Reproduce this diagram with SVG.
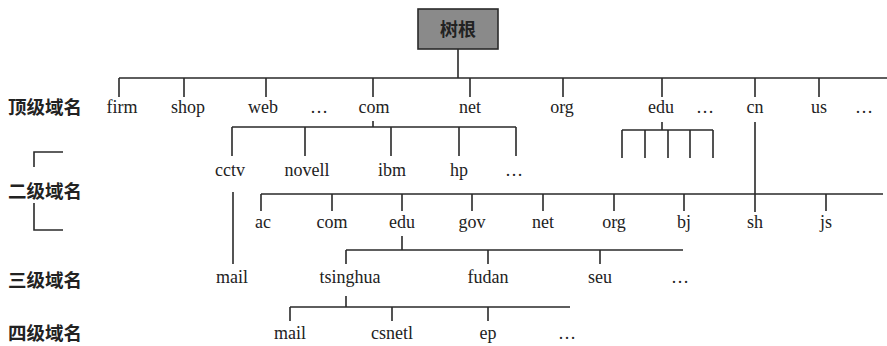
<svg xmlns="http://www.w3.org/2000/svg" width="887" height="346" viewBox="0 0 887 346">
<style>
.ln{stroke:#2a2a2a;stroke-width:1.6;fill:none}
.t{font-family:"Liberation Serif","Times New Roman",serif;font-size:18px;fill:#222;text-anchor:middle}
.cn{font-family:"Noto Sans CJK SC","Noto Sans",sans-serif;font-size:18.5px;font-weight:bold;fill:#222}
</style>
<rect width="887" height="346" fill="#ffffff"/>
<g id="root">
<rect x="418" y="9" width="80" height="40" fill="#8a8a8a" stroke="#2a2a2a" stroke-width="1.6"/>
<text x="458" y="36" class="cn" text-anchor="middle" style="font-size:18px">树根</text>
</g>
<g id="levels">
<text x="8" y="114" class="cn">顶级域名</text>
<text x="8" y="198" class="cn">二级域名</text>
<text x="8" y="287" class="cn">三级域名</text>
<text x="8" y="340" class="cn">四级域名</text>
<path class="ln" d="M63,152 H34 V167 M34,203 V230 H63"/>
</g>
<g id="connectors">
<path class="ln" d="M458,49 V78 M119,78 H887 M119,78 V97 M184,78 V97 M266,78 V97 M373,78 V97 M470,78 V97 M563,78 V97 M662,78 V97 M755,78 V97 M819,78 V97"/>
<path class="ln" d="M373,121 V127 M232,127 H516 M232,127 V156 M305,127 V156 M391,127 V156 M459,127 V156 M516,127 V156"/>
<path class="ln" d="M662,122 V130 M622,130 H713 M622,130 V158 M645,130 V158 M668,130 V158 M690,130 V158 M713,130 V158"/>
<path class="ln" d="M755,122 V212 M261,194 H883 M261,194 V211 M332,194 V211 M402,194 V211 M472,194 V211 M543,194 V211 M614,194 V211 M684,194 V211 M826,194 V211"/>
<path class="ln" d="M233,192 V264"/>
<path class="ln" d="M402,236 V250 M346,250 H683 M346,250 V264 M488,250 V264 M600,250 V264"/>
<path class="ln" d="M346,296 V307 M290,307 H570 M290,307 V321 M392,307 V321 M488,307 V321"/>
</g>
<g id="top-level">
<text x="122" y="113" class="t">firm</text>
<text x="188" y="113" class="t">shop</text>
<text x="263" y="113" class="t">web</text>
<text x="319" y="113" class="t">…</text>
<text x="374" y="113" class="t">com</text>
<text x="470" y="113" class="t">net</text>
<text x="562" y="113" class="t">org</text>
<text x="661" y="113" class="t">edu</text>
<text x="705" y="113" class="t">…</text>
<text x="755" y="113" class="t">cn</text>
<text x="819" y="113" class="t">us</text>
<text x="864" y="113" class="t">…</text>
</g>
<g id="second-com">
<text x="230" y="176" class="t">cctv</text>
<text x="307" y="176" class="t">novell</text>
<text x="392" y="176" class="t">ibm</text>
<text x="459" y="176" class="t">hp</text>
<text x="514" y="176" class="t">…</text>
</g>
<g id="second-cn">
<text x="263" y="228" class="t">ac</text>
<text x="332" y="228" class="t">com</text>
<text x="402" y="228" class="t">edu</text>
<text x="472" y="228" class="t">gov</text>
<text x="543" y="228" class="t">net</text>
<text x="614" y="228" class="t">org</text>
<text x="684" y="228" class="t">bj</text>
<text x="755" y="228" class="t">sh</text>
<text x="826" y="228" class="t">js</text>
</g>
<g id="third-level">
<text x="232" y="283" class="t">mail</text>
<text x="350" y="283" class="t">tsinghua</text>
<text x="488" y="283" class="t">fudan</text>
<text x="600" y="283" class="t">seu</text>
<text x="680" y="283" class="t">…</text>
</g>
<g id="fourth-level">
<text x="290" y="339" class="t">mail</text>
<text x="392" y="339" class="t">csnetl</text>
<text x="488" y="339" class="t">ep</text>
<text x="567" y="339" class="t">…</text>
</g>
</svg>
